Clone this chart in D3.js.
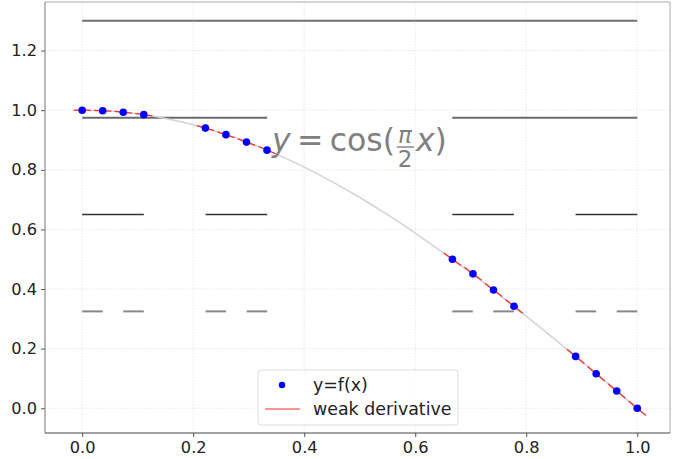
<!DOCTYPE html>
<html><head><meta charset="utf-8">
<script src="https://cdn.jsdelivr.net/npm/d3@7"></script>
<style>body{margin:0;background:#fff}svg{display:block}text{font-family:"DejaVu Sans",sans-serif}</style>
</head><body><svg id="c" width="681" height="459"></svg>
<script>
// Sample points y=f(x)
const pointX = [0, 0.037, 0.074, 0.111, 0.222, 0.259, 0.296, 0.333, 0.667, 0.704, 0.741, 0.778, 0.889, 0.926, 0.963, 1.0];
const pointY = [1.0, 0.998, 0.993, 0.985, 0.940, 0.918, 0.893, 0.866, 0.500, 0.451, 0.397, 0.342, 0.174, 0.116, 0.058, 0.0];
// weak derivative (slope) at each point
const slopes = [0, -0.091, -0.182, -0.273, -0.537, -0.622, -0.705, -0.785, -1.360, -1.404, -1.442, -1.476, -1.547, -1.560, -1.568, -1.571];
const halfWidth = 0.0155;
// background curve y = cos(pi/2 x) samples
const curveX = [0,0.05,0.1,0.15,0.2,0.25,0.3,0.35,0.4,0.45,0.5,0.55,0.6,0.65,0.7,0.75,0.8,0.85,0.9,0.95,1.0];
const curveY = [1,0.9969,0.9877,0.9724,0.9511,0.9239,0.8910,0.8526,0.8090,0.7604,0.7071,0.6494,0.5878,0.5225,0.4540,0.3827,0.3090,0.2334,0.1564,0.0785,0];
// Cantor construction levels
const levelY = [1.3, 0.975, 0.65, 0.325];
const levelSegments = [
  [[0,1]],
  [[0,0.3333],[0.6667,1]],
  [[0,0.1111],[0.2222,0.3333],[0.6667,0.7778],[0.8889,1]],
  [[0,0.0370],[0.0741,0.1111],[0.2222,0.2593],[0.2963,0.3333],[0.6667,0.7037],[0.7407,0.7778],[0.8889,0.9259],[0.9630,1]]
];
const levelColor = ["#707070","#6a6a6a","#333333","#888888"];
const levelWidth = [2, 2, 1.5, 2];
const xTicks = [0,0.2,0.4,0.6,0.8,1.0];
const yTicks = [0,0.2,0.4,0.6,0.8,1.0,1.2];
const legendLabels = ["y=f(x)","weak derivative"];

const L=45,R=670,T=2,B=433;
const x = d3.scaleLinear().domain([-0.067,1.059]).range([L,R]);
const y = d3.scaleLinear().domain([-0.083,1.363]).range([B,T]);
const svg = d3.select("#c");

// grid
const g = svg.append("g");
g.selectAll(".gx").data(xTicks).enter().append("line")
 .attr("x1",d=>x(d)).attr("x2",d=>x(d)).attr("y1",T).attr("y2",B)
 .attr("stroke","#e2e2e2").attr("stroke-width",0.8).attr("stroke-dasharray","1.5,1.5");
g.selectAll(".gy").data(yTicks).enter().append("line")
 .attr("y1",d=>y(d)).attr("y2",d=>y(d)).attr("x1",L).attr("x2",R)
 .attr("stroke","#e2e2e2").attr("stroke-width",0.8).attr("stroke-dasharray","1.5,1.5");

// axes
const xa = svg.append("g").attr("transform",`translate(0,${B})`)
 .call(d3.axisBottom(x).tickValues(xTicks).tickFormat(d3.format(".1f")).tickSize(4).tickPadding(4));
const ya = svg.append("g").attr("transform",`translate(${L},0)`)
 .call(d3.axisLeft(y).tickValues(yTicks).tickFormat(d3.format(".1f")).tickSize(4).tickPadding(4));
[xa,ya].forEach(a=>{a.select(".domain").remove();
 a.selectAll("text").attr("font-size","16.2px").attr("fill","#222").attr("font-family","DejaVu Sans");
 a.selectAll("line").attr("stroke","#555");});

// spines
svg.append("line").attr("x1",L).attr("x2",R).attr("y1",T).attr("y2",T).attr("stroke","#aaa");
svg.append("line").attr("x1",R).attr("x2",R).attr("y1",T).attr("y2",B).attr("stroke","#aaa");
svg.append("line").attr("x1",L).attr("x2",L).attr("y1",T).attr("y2",B).attr("stroke","#777");
svg.append("line").attr("x1",L).attr("x2",R).attr("y1",B).attr("y2",B).attr("stroke","#444");

// cantor levels
levelY.forEach((ly,i)=>{
  svg.selectAll(null).data(levelSegments[i]).enter().append("line")
   .attr("x1",d=>x(d[0])).attr("x2",d=>x(d[1])).attr("y1",y(ly)).attr("y2",y(ly))
   .attr("stroke",levelColor[i]).attr("stroke-width",levelWidth[i]);
});

// gray curve
const line = d3.line().x(d=>x(d[0])).y(d=>y(d[1])).curve(d3.curveNatural);
svg.append("path").datum(curveX.map((v,i)=>[v,curveY[i]])).attr("d",line)
 .attr("fill","none").attr("stroke","#d3d3d3").attr("stroke-width",1.5);

// weak derivative segments
svg.selectAll(".seg").data(pointX).enter().append("line")
 .attr("x1",(d,i)=>x(d-halfWidth)).attr("y1",(d,i)=>y(pointY[i]-slopes[i]*halfWidth))
 .attr("x2",(d,i)=>x(d+halfWidth)).attr("y2",(d,i)=>y(pointY[i]+slopes[i]*halfWidth))
 .attr("stroke","#ff2a2a").attr("stroke-width",1.3);

// points
svg.selectAll(".pt").data(pointX).enter().append("circle")
 .attr("cx",d=>x(d)).attr("cy",(d,i)=>y(pointY[i])).attr("r",3.8).attr("fill","#0000ff");

// annotation
const ax = x(0.342), ay = y(0.863);
const ann = svg.append("g").attr("fill","#808080").attr("font-size","31.5px");
const t1 = ann.append("text").attr("x",ax).attr("y",ay);
t1.append("tspan").attr("font-style","italic").text("y");
t1.append("tspan").text("\u2009=\u2009cos(");
const w1 = t1.node().getComputedTextLength();
const fx = ax + w1 + 1;
ann.append("text").attr("x",fx+9).attr("y",ay-8).attr("font-size","23px").attr("text-anchor","middle").attr("font-style","italic").text("\u03c0");
ann.append("line").attr("x1",fx+1).attr("x2",fx+18).attr("y1",ay-4).attr("y2",ay-4).attr("stroke","#808080").attr("stroke-width",1.4);
ann.append("text").attr("x",fx+9).attr("y",ay+16).attr("font-size","23px").attr("text-anchor","middle").text("2");
const t2 = ann.append("text").attr("x",fx+20).attr("y",ay);
t2.append("tspan").attr("font-style","italic").text("x");
t2.append("tspan").text(")");

// legend
const lg = svg.append("g");
lg.append("rect").attr("x",258).attr("y",370).attr("width",200).attr("height",55).attr("rx",3)
 .attr("fill","#fff").attr("fill-opacity",0.8).attr("stroke","#ddd");
lg.append("circle").attr("cx",282).attr("cy",385).attr("r",3.2).attr("fill","#0000ff");
lg.append("line").attr("x1",265).attr("x2",300).attr("y1",409).attr("y2",409).attr("stroke","#ff2a2a").attr("stroke-width",1);
lg.selectAll(".lt").data(legendLabels).enter().append("text")
 .attr("x",313).attr("y",(d,i)=>391+i*24).attr("font-size","17.4px").attr("fill","#222").text(d=>d);
</script></body></html>
